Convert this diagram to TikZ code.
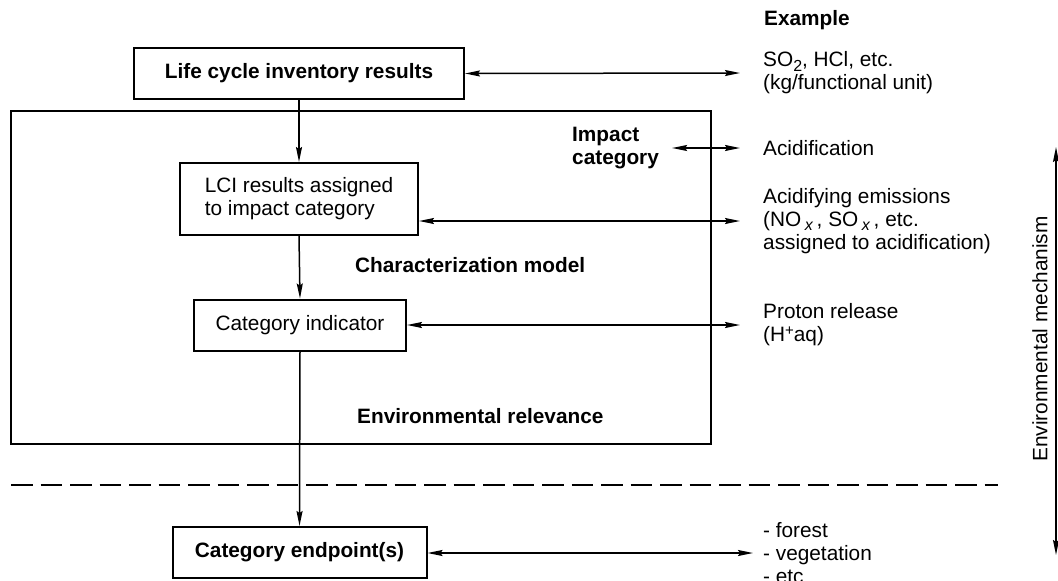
\documentclass[tikz,border=0pt]{standalone}
\usepackage{fontspec}
\setmainfont{Liberation Sans}
\usetikzlibrary{arrows.meta}
\newcommand{\lowsub}[1]{\raisebox{-0.2em}[0pt][0pt]{\fontsize{16}{16}\selectfont #1}}
\newcommand{\highsup}[1]{\raisebox{0.33em}[0pt][0pt]{\fontsize{15}{15}\selectfont #1}}
\begin{document}
\begin{tikzpicture}[x=1pt,y=-1pt,
  every node/.style={font=\fontsize{20.8}{23}\selectfont, inner sep=0pt},
  boldtext/.style={font=\fontsize{20.8}{23}\selectfont\bfseries},
  boldbox/.style={draw, line width=2pt, boldtext},
  plainbox/.style={draw, line width=2pt, align=left},
  lbl/.style={anchor=west, align=left},
  tip/.tip={Stealth[length=15pt,width=6pt,inset=2pt]},
  conn/.style={line width=1.5pt, -tip},
  dconn/.style={line width=1.5pt, tip-tip},
]
\useasboundingbox (0,0) rectangle (1058,581);

% frame
\node[draw, line width=2pt, minimum width=700pt, minimum height=333pt] (frame) at (361,277.5) {};

% boxes
\node[boldbox, minimum width=330pt, minimum height=51pt] (lci) at (299,73.5) {Life cycle inventory results};
\node[plainbox, minimum width=238pt, minimum height=72pt] (assign) at (299,199) {LCI results assigned\\to impact category};
\node[plainbox, minimum width=212pt, minimum height=51pt] (ind) at (300,325) {Category indicator};
\node[boldbox, minimum width=254pt, minimum height=51pt] (endp) at (299.5,552.5) {Category endpoint(s)};

% inner labels
\node[boldtext, anchor=west, align=left] (imp) at (572,148) {Impact\\category};
\node[boldtext, anchor=base west] (charm) at (355,272) {Characterization model};
\node[boldtext, anchor=base west] (envrel) at (357,423) {Environmental relevance};

% right column
\node[boldtext, anchor=base west] (example) at (764,25) {Example};
\node[lbl] (so2) at (763,73) {SO\lowsub{2}, HCl, etc.\\(kg/functional unit)};
\node[lbl] (acid) at (763,148) {Acidification};
\node[lbl] (acidem) at (763,221) {Acidifying emissions\\(NO\,\lowsub{\textit{x}}\,, SO\,\lowsub{\textit{x}}\,, etc.\\assigned to acidification)};
\node[lbl] (proton) at (763,325) {Proton release\\(H\highsup{+}aq)};
\node[lbl] (ends) at (763,553) {- forest\\- vegetation\\- etc};
\node[rotate=90] (mech) at (1040,339) {Environmental mechanism};

% vertical arrows
\draw[conn] (lci.south) -- (assign.north);
\draw[conn] (assign.south) -- (ind.north);
\draw[conn] (ind.south) -- (endp.north);

% horizontal arrows
\draw[dconn] (lci.east) -- ([xshift=-23pt]so2.west);
\draw[dconn] ([xshift=13pt]imp.east) -- ([xshift=-23pt]acid.west);
\draw[dconn] (assign.east |- acidem.west) -- ([xshift=-23pt]acidem.west);
\draw[dconn] (ind.east) -- ([xshift=-23pt]proton.west);
\draw[dconn] (endp.east |- ends.west) -- ([xshift=-10pt]ends.west);

% mechanism arrow
\coordinate (mtop) at (1056,147);
\coordinate (mbot) at (1056,555);
\draw[dconn] (mtop) -- (mbot);

% dashed separator
\coordinate (dl) at (11,485);
\coordinate (dr) at (998,485);
\draw[line width=2pt, dash pattern=on 21.5pt off 8pt] (dl) -- (dr);
\end{tikzpicture}
\end{document}
